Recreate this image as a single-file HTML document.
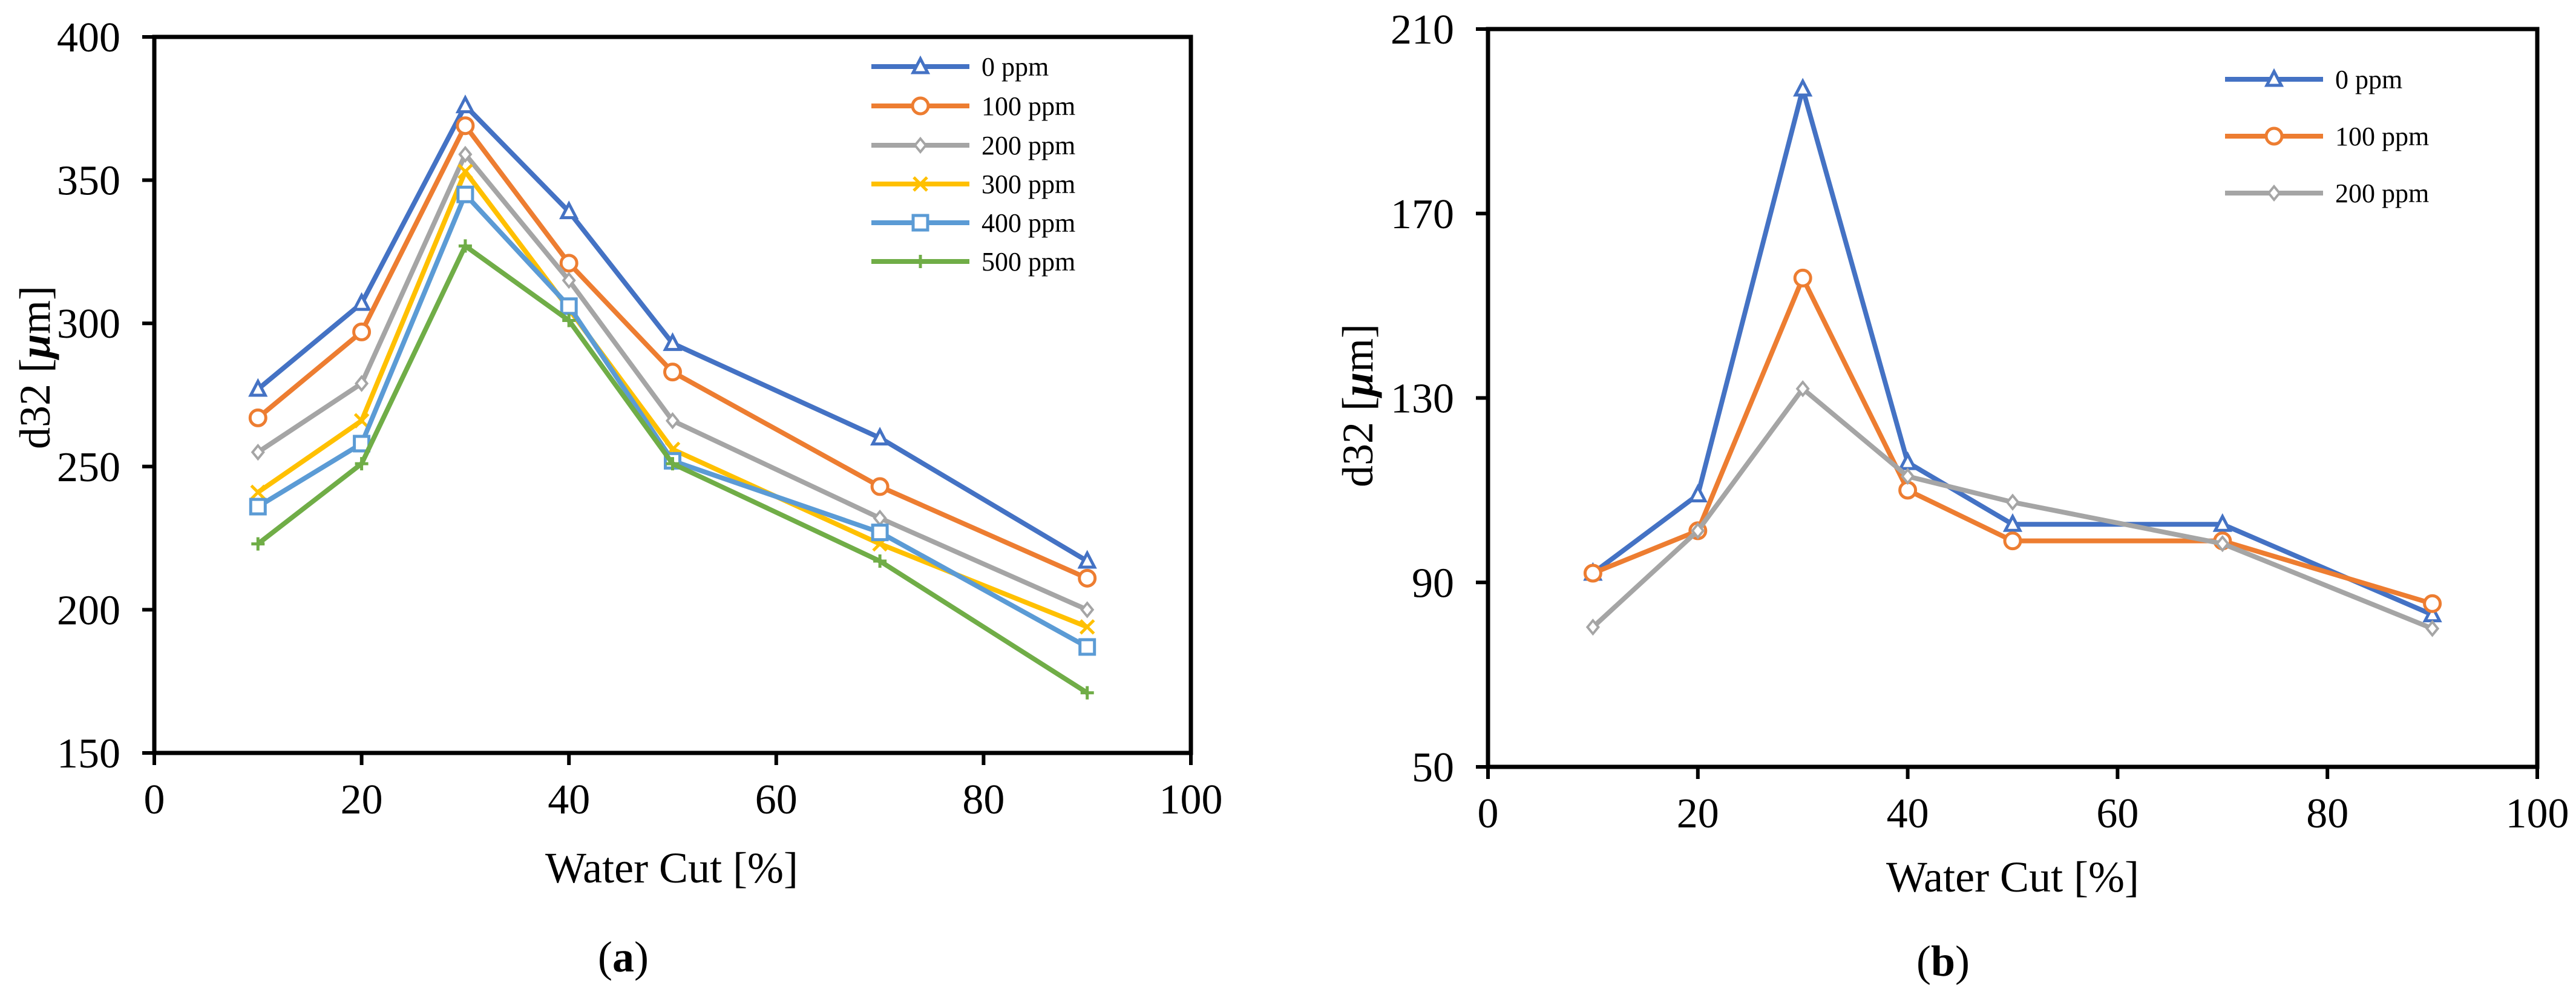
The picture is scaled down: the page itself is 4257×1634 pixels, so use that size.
<!DOCTYPE html>
<html><head><meta charset="utf-8"><style>
html,body{margin:0;padding:0;background:#fff;}
svg{display:block;font-family:"Liberation Serif",serif;}
</style></head><body>
<svg id="svg" width="4257" height="1634" viewBox="0 0 4257 1634" xmlns="http://www.w3.org/2000/svg"></svg>
<script>
const xValues = [10, 20, 30, 40, 50, 70, 90];
const xTicks = [0, 20, 40, 60, 80, 100];
const aYTicks = [150, 200, 250, 300, 350, 400];
const bYTicks = [50, 90, 130, 170, 210];
const aNames = ["0 ppm", "100 ppm", "200 ppm", "300 ppm", "400 ppm", "500 ppm"];
const a0 = [277, 307, 376, 339, 293, 260, 217];
const a100 = [267, 297, 369, 321, 283, 243, 211];
const a200 = [255, 279, 359, 315, 266, 232, 200];
const a300 = [241, 266, 353, 305, 256, 223, 194];
const a400 = [236, 258, 345, 306, 252, 227, 187];
const a500 = [223, 251, 327, 301, 251, 217, 171];
const bNames = ["0 ppm", "100 ppm", "200 ppm"];
const b0 = [92, 109, 197, 116, 102.6, 102.6, 83];
const b100 = [92, 101.2, 156, 110, 99, 99, 85.4];
const b200 = [80.3, 101.2, 132, 113, 107.4, 98.4, 80];

const NS = "http://www.w3.org/2000/svg";
const svg = document.getElementById("svg");
function mk(tag, attrs, parent) {
  const e = document.createElementNS(NS, tag);
  for (const k in attrs) e.setAttribute(k, attrs[k]);
  (parent || svg).appendChild(e);
  return e;
}
const colors = ["#4472C4", "#ED7D31", "#A5A5A5", "#FFC000", "#5B9BD5", "#70AD47"];
const markers = ["tri", "circ", "diam", "x", "sq", "plus"];

function marker(g, type, cx, cy, col) {
  let e;
  if (type === "tri") e = mk("polygon", {points: `${cx},${cy-13} ${cx-12},${cy+10} ${cx+12},${cy+10}`, fill: "#fff", stroke: col, "stroke-width": 5}, g);
  else if (type === "circ") e = mk("circle", {cx: cx, cy: cy, r: 13, fill: "#fff", stroke: col, "stroke-width": 5}, g);
  else if (type === "diam") e = mk("polygon", {points: `${cx},${cy-11} ${cx+9},${cy} ${cx},${cy+11} ${cx-9},${cy}`, fill: "#fff", stroke: col, "stroke-width": 4}, g);
  else if (type === "sq") e = mk("rect", {x: cx-12, y: cy-12, width: 24, height: 24, fill: "#fff", stroke: col, "stroke-width": 5}, g);
  else if (type === "x") e = mk("path", {d: `M${cx-11},${cy-11}L${cx+11},${cy+11}M${cx-11},${cy+11}L${cx+11},${cy-11}`, stroke: col, "stroke-width": 5, fill: "none"}, g);
  else e = mk("path", {d: `M${cx-11},${cy}L${cx+11},${cy}M${cx},${cy-11}L${cx},${cy+11}`, stroke: col, "stroke-width": 5, fill: "none"}, g);
  
  
  return e;
}

function chart(cfg) {
  const g = mk("g", {});
  
  
  const X = v => cfg.x0 + (v - 0) / 100 * (cfg.x1 - cfg.x0);
  const Y = v => cfg.y1 - (v - cfg.ymin) / (cfg.ymax - cfg.ymin) * (cfg.y1 - cfg.y0);
  const frame = mk("rect", {x: cfg.x0, y: cfg.y0, width: cfg.x1 - cfg.x0, height: cfg.y1 - cfg.y0, fill: "none", stroke: "#000", "stroke-width": 7}, g);
  
  
  cfg.yTicks.forEach(t => {
    const l = mk("line", {x1: cfg.x0 - 20, x2: cfg.x0, y1: Y(t), y2: Y(t), stroke: "#000", "stroke-width": 6}, g);
    
    
    const tx = mk("text", {x: cfg.x0 - 56, y: Y(t) + 24, "font-size": 70, "text-anchor": "end"}, g);
    
    
    tx.textContent = t;
  });
  xTicks.forEach(t => {
    const l = mk("line", {x1: X(t), x2: X(t), y1: cfg.y1, y2: cfg.y1 + 20, stroke: "#000", "stroke-width": 6}, g);
    
    
    const tx = mk("text", {x: X(t), y: cfg.y1 + 100, "font-size": 70, "text-anchor": "middle"}, g);
    
    
    tx.textContent = t;
  });
  cfg.series.forEach((s, i) => {
    const sg = mk("g", {}, g);
    
    
    const pts = s.map((v, j) => X(xValues[j]) + "," + Y(v)).join(" ");
    const pl = mk("polyline", {points: pts, fill: "none", stroke: colors[i], "stroke-width": 8, "stroke-linejoin": "round"}, sg);
    
    
    s.forEach((v, j) => marker(sg, markers[i], X(xValues[j]), Y(v), colors[i]));
    // legend
    const ly = cfg.legY[i];
    const lg = mk("g", {}, g);
    
    
    mk("line", {x1: cfg.legX, x2: cfg.legX + 162, y1: ly, y2: ly, stroke: colors[i], "stroke-width": 8}, lg);
    marker(lg, markers[i], cfg.legX + 81, ly, colors[i]);
    const lt = mk("text", {x: cfg.legX + 182, y: ly + 15, "font-size": 44}, lg);
    
    
    lt.textContent = cfg.names[i];
  });
  const yt = mk("text", {x: 0, y: 0, "font-size": 72, "text-anchor": "middle", transform: `translate(${cfg.yTitleX},${cfg.yTitleY}) rotate(-90)`}, g);
  
  
  yt.innerHTML = 'd32 [<tspan font-weight="bold" font-style="italic">μ</tspan>m]';
  const xt = mk("text", {x: cfg.xTitleX, y: cfg.xTitleY, "font-size": 72, "text-anchor": "middle"}, g);
  
  
  xt.textContent = "Water Cut [%]";
  const pt = mk("text", {x: cfg.labX, y: cfg.labY, "font-size": 72, "text-anchor": "middle"}, g);
  
  
  pt.innerHTML = '(<tspan font-weight="bold">' + cfg.lab + '</tspan>)';
}

chart({name: "chart-a", x0: 255, x1: 1968, y0: 61, y1: 1244, ymin: 150, ymax: 400, yTicks: aYTicks,
  series: [a0, a100, a200, a300, a400, a500], names: aNames,
  legX: 1440, legY: [110, 175, 240, 304, 368, 432],
  yTitleX: 82, yTitleY: 607, xTitleX: 1110, xTitleY: 1458, labX: 1030, labY: 1605, lab: "a"});
chart({name: "chart-b", x0: 2459, x1: 4193, y0: 48, y1: 1267, ymin: 50, ymax: 210, yTicks: bYTicks,
  series: [b0, b100, b200], names: bNames,
  legX: 3677, legY: [131, 225, 319],
  yTitleX: 2268, yTitleY: 670, xTitleX: 3326, xTitleY: 1473, labX: 3211, labY: 1612, lab: "b"});
</script>
</body></html>
